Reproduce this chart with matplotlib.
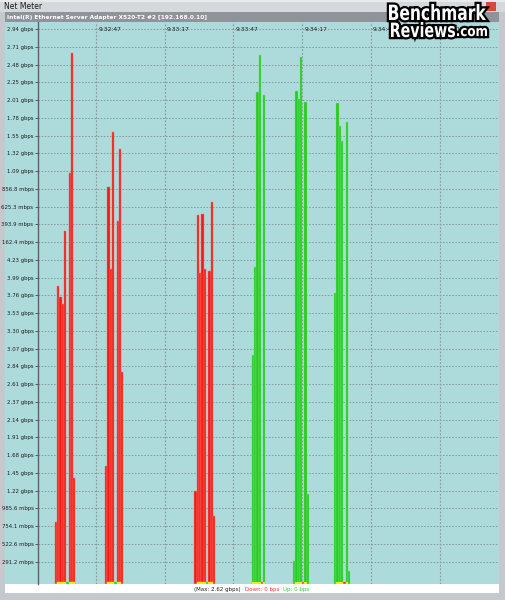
import matplotlib
matplotlib.use('Agg')
import matplotlib.pyplot as plt
from matplotlib.patches import Rectangle, PathPatch
from matplotlib.textpath import TextPath
from matplotlib.font_manager import FontProperties
from matplotlib.transforms import Affine2D, IdentityTransform

W, H = 505, 600

# y axis labels, bottom to top (the meter wraps past 4.29 gbps)
y_labels = ["291.2 mbps", "522.6 mbps", "754.1 mbps", "985.6 mbps",
            "1.22 gbps", "1.45 gbps", "1.68 gbps", "1.91 gbps", "2.14 gbps",
            "2.37 gbps", "2.61 gbps", "2.84 gbps", "3.07 gbps", "3.30 gbps",
            "3.53 gbps", "3.76 gbps", "3.99 gbps", "4.23 gbps",
            "162.4 mbps", "393.9 mbps", "625.3 mbps", "856.8 mbps",
            "1.09 gbps", "1.32 gbps", "1.55 gbps", "1.78 gbps", "2.01 gbps",
            "2.25 gbps", "2.48 gbps", "2.71 gbps", "2.94 gbps"]
y_first = 291.2
y_step = 231.5

# time grid labels, seconds after 9:32:47
time_labels = ["9:32:47", "9:33:17", "9:33:47", "9:34:17", "9:34:47", "9:35:17"]
time_sec = [0, 30, 60, 90, 120, 150]

# samples (one per second)
seconds = [-18, -17, -16, -15, -14, -13, -12, -11, -10,
           4, 5, 6, 7, 8, 9, 10, 11,
           43, 44, 45, 46, 47, 48, 49, 50, 51,
           68, 69, 70, 71, 72, 73,
           86, 87, 88, 89, 90, 91, 92,
           104, 105, 106, 107, 108, 109, 110]
down_mbps = [808, 3881, 3740, 3649, 4603, 0, 5356, 6927, 1380,
             1534, 5175, 4103, 5892, 0, 4730, 5674, 2760,
             1208, 4811, 4058, 4825, 4103, 0, 4076, 4984, 890,
             22, 22, 22, 22, 30, 22,
             0, 22, 22, 22, 30, 22, 0,
             0, 22, 22, 22, 30, 22, 0]
up_mbps = [0, 24, 24, 24, 24, 30, 24, 24, 24,
           0, 24, 24, 24, 30, 24, 24, 0,
           0, 24, 24, 24, 24, 30, 24, 24, 0,
           2987, 4135, 6414, 6900, 0, 6373,
           300, 6423, 6318, 6868, 0, 6291, 1176,
           3795, 6269, 5969, 5778, 0, 6028, 172]

BG = '#addbdc'


def fx(x):
    return x / W


def fy(y):
    return 1 - y / H


def px_rect(fig, x0, y0, x1, y1, color):
    fig.patches.append(Rectangle((fx(x0), fy(y1)), fx(x1) - fx(x0), fy(y0) - fy(y1),
                                 transform=fig.transFigure, facecolor=color,
                                 edgecolor='none', zorder=-10))


def logo_text(fig, s, x0, x1, ytop, ybase):
    # squeeze bold text into a box, white with a black outline
    tp = TextPath((0, 0), s, size=20, prop=FontProperties(family='DejaVu Sans', weight='bold'))
    ext = tp.get_extents()
    sx = (x1 - x0) / ext.width
    sy = (ybase - ytop) / ext.y1
    tr = Affine2D().translate(-ext.x0, 0).scale(sx, sy).translate(x0, H - ybase)
    path = tr.transform_path(tp)
    fig.patches.append(PathPatch(path, transform=IdentityTransform(), facecolor='black',
                                 edgecolor='black', linewidth=3.2, zorder=20))
    fig.patches.append(PathPatch(path, transform=IdentityTransform(), facecolor='white',
                                 edgecolor='none', zorder=21))


fig = plt.figure(figsize=(W / 100, H / 100), dpi=100)
fig.patch.set_facecolor('#c5c9cd')

# window chrome
px_rect(fig, 0, 0, W, 12, '#d6d9dc')
px_rect(fig, 0, 0, W, 2, '#e8eaec')
px_rect(fig, 5, 12, 499, 22, '#8e9499')
px_rect(fig, 5, 22, 499, 584, BG)
px_rect(fig, 5, 584, 499, 593, 'white')
px_rect(fig, 486, 2, 496, 11, '#d9493a')
fig.text(fx(4), fy(6.5), "Net Meter", fontsize=5.5, color='#1a1a1a', va='center')
fig.text(fx(7), fy(17), "Intel(R) Ethernet Server Adapter X520-T2 #2 [192.168.0.10]",
         fontsize=4.2, color='white', weight='bold', va='center')

ax = fig.add_axes([fx(38), fy(584), fx(499) - fx(38), fy(22) - fy(584)])
ax.set_facecolor(BG)
ax.set_xlim(-25.33, 175.98)
y_top = (584 - 22) / 17.753 * y_step
ax.set_ylim(0, y_top)

y_ticks = [y_first + y_step * k for k in range(len(y_labels))]
ax.set_yticks(y_ticks)
ax.set_yticklabels(y_labels, fontsize=3.9, color='#1e1e1e')
ax.tick_params(axis='y', direction='out', length=2.5, width=0.6, color='#444444', pad=0.8)
ax.set_xticks([])
ax.grid(axis='y', color='#8a9898', linestyle=(0, (1.6, 1.6)), linewidth=0.7)
ax.set_axisbelow(True)
for t in time_sec:
    ax.axvline(t, color='#8a9898', linestyle=(0, (1.6, 1.6)), linewidth=0.8, zorder=0.5)
for t, lab in zip(time_sec, time_labels):
    ax.text(t + 1.0, 0.9865, lab, transform=ax.get_xaxis_transform(),
            fontsize=4.3, color='#1e1e1e', va='center', ha='left')

for s in ['top', 'right', 'bottom']:
    ax.spines[s].set_visible(False)
ax.spines['left'].set_color('#5a6266')
ax.spines['left'].set_linewidth(1.0)

both = [min(d, u) for d, u in zip(down_mbps, up_mbps)]
ax.bar(seconds, down_mbps, width=1.0, align='edge', color='#f21a14',
       edgecolor='#f77a70', linewidth=0.35, zorder=2)
ax.bar(seconds, up_mbps, width=1.0, align='edge', color='#1fcc1f',
       edgecolor='#7fe07f', linewidth=0.35, zorder=2)
ax.bar(seconds, both, width=1.0, align='edge', color='#f0ec10', linewidth=0, zorder=3)

# status line
fig.text(fx(194), fy(589), "(Max: 2.62 gbps)", fontsize=4.0, color='#222222', va='center')
fig.text(fx(245), fy(589), "Down: 0 bps", fontsize=4.0, color='#ff3030', va='center')
fig.text(fx(283), fy(589), "Up: 0 bps", fontsize=4.0, color='#30c830', va='center')

# watermark
logo_text(fig, "Benchmark", 389, 486, 4, 20)
logo_text(fig, "Reviews", 391, 455, 22, 37)
logo_text(fig, ".com", 457, 487, 28, 36)

fig.savefig('out.png', dpi=100, facecolor=fig.get_facecolor())
